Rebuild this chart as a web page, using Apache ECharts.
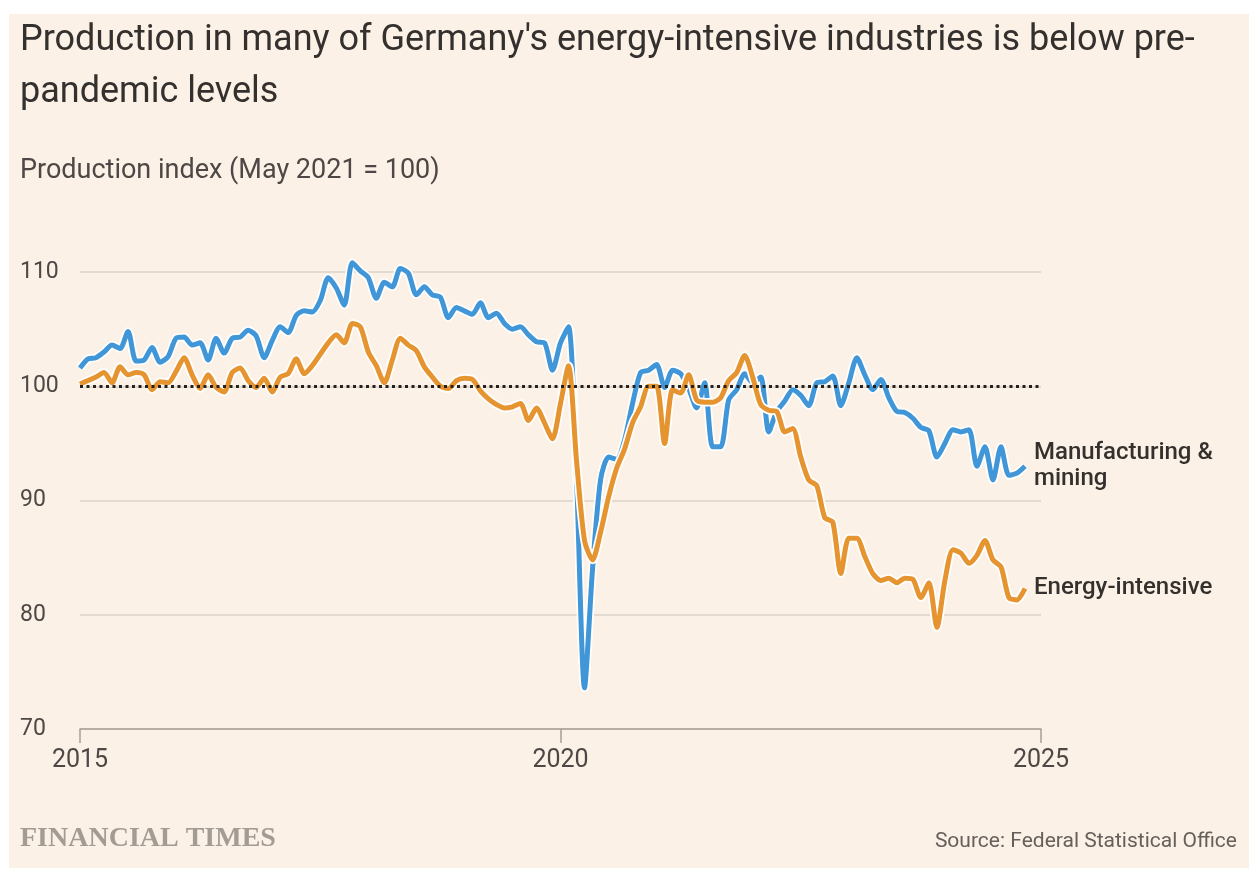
<!DOCTYPE html>
<html>
<head>
<meta charset="utf-8">
<script src="https://cdn.jsdelivr.net/npm/echarts@6/dist/echarts.min.js"></script>
<style>
  html, body { margin: 0; padding: 0; background: #fff; }
  #chart { width: 1260px; height: 884px; }
</style>
</head>
<body>
<div id="chart"></div>
<script>
// monthly index, Jan 2015 - Nov 2024 (May 2021 = 100)
var startYear = 2015;
var manufacturing = [
  101.6, 102.4, 102.5, 103.0, 103.6, 103.3, 104.8, 102.2, 102.3, 103.4, 102.1, 102.6,
  104.2, 104.3, 103.6, 103.8, 102.3, 104.2, 102.9, 104.2, 104.3, 104.9, 104.4, 102.5,
  104.0, 105.2, 104.7, 106.2, 106.6, 106.5, 107.5, 109.5, 108.6, 107.1, 110.8, 110.1,
  109.5, 107.7, 109.1, 108.7, 110.3, 109.9, 108.0, 108.7, 108.0, 107.8, 106.0, 106.9,
  106.6, 106.3, 107.3, 106.0, 106.4, 105.5, 105.0, 105.2, 104.5, 103.9, 103.8, 101.4,
  103.8, 105.2, 92.0, 73.6, 84.0, 91.8, 93.8, 93.6, 95.3, 98.5, 101.2, 101.4,
  101.9, 99.9, 101.4, 101.1, 99.8, 98.1, 100.3, 94.7, 94.7, 98.8, 99.7, 101.1,
  100.3, 100.8, 96.0, 97.8, 98.7, 99.7, 99.2, 98.3, 100.3, 100.4, 100.9, 98.3,
  100.3, 102.5, 101.0, 99.7, 100.6, 99.0, 97.8, 97.7, 97.2, 96.4, 96.1, 93.8,
  95.0, 96.2, 96.0, 96.2, 93.0, 94.7, 91.8, 94.7, 92.2, 92.4, 93.0
];
var energyIntensive = [
  100.2, 100.5, 100.8, 101.2, 100.3, 101.7, 101.0, 101.2, 101.0, 99.7, 100.4, 100.3,
  101.3, 102.5, 101.0, 99.8, 101.0, 99.9, 99.5, 101.2, 101.6, 100.5, 99.9, 100.7,
  99.5, 100.8, 101.1, 102.4, 101.1, 101.8, 102.8, 103.8, 104.5, 103.8, 105.5, 105.2,
  103.0, 101.8, 100.3, 102.3, 104.2, 103.6, 103.1, 101.7, 100.8, 100.0, 99.8, 100.5,
  100.7, 100.6, 99.6, 98.9, 98.4, 98.1, 98.2, 98.5, 97.0, 98.1, 96.8, 95.4,
  98.5, 101.8, 93.5, 86.5, 84.8, 87.2, 90.3, 92.8, 94.5, 96.8, 98.2, 100.0,
  100.0, 95.0, 99.7, 99.4, 101.0, 98.8, 98.6, 98.6, 99.0, 100.5, 101.2, 102.7,
  100.8, 98.4, 97.9, 97.8, 96.0, 96.3, 93.8, 91.8, 91.3, 88.5, 88.1, 83.6,
  86.7, 86.7, 85.1, 83.6, 83.0, 83.2, 82.8, 83.2, 83.1, 81.5, 82.8, 78.9,
  83.0, 85.7, 85.4, 84.5, 85.2, 86.5, 84.8, 84.2, 81.5, 81.3, 82.3
];
var xTicks = [2015, 2020, 2025];
var yTicks = [70, 80, 90, 100, 110];

function toPoints(values) {
  return values.map(function (v, i) { return [startYear + i / 12, v]; });
}

var blue = '#4096d7';
var orange = '#e59430';
var ink = '#33302e';

var chart = echarts.init(document.getElementById('chart'));

function lineSeries(name, values, color, halo, label) {
  return {
    name: name,
    type: 'line',
    data: toPoints(values),
    showSymbol: false,
    symbol: 'none',
    smooth: 0.25,
    clip: false,
    silent: true,
    lineStyle: { color: halo ? '#ffffff' : color, width: halo ? 8.5 : 5 },
    endLabel: label ? {
      show: true,
      distance: 9,
      formatter: label,
      color: ink,
      fontSize: 24,
      fontWeight: 500,
      lineHeight: 26,
      fontFamily: 'Roboto'
    } : { show: false }
  };
}

var blueHalo = lineSeries('mfg-halo', manufacturing, blue, true);
blueHalo.markLine = {
  silent: true,
  symbol: 'none',
  label: { show: false },
  lineStyle: { color: '#26211e', type: [3, 3.5], width: 3 },
  data: [{ yAxis: 100 }]
};

chart.setOption({
  backgroundColor: '#ffffff',
  animation: false,
  textStyle: { fontFamily: 'Roboto' },
  graphic: [
    { type: 'rect', z: -10, shape: { x: 9, y: 14, width: 1240, height: 854 }, style: { fill: '#fcf1e6' } },
    { type: 'text', left: 20, top: 825, style: { text: 'FINANCIAL TIMES', fill: '#a39c95', fontFamily: 'Liberation Serif', fontWeight: 'bold', fontSize: 28 } },
    { type: 'text', right: 23, top: 831, style: { text: 'Source: Federal Statistical Office', fill: '#66605c', fontFamily: 'Roboto', fontSize: 21 } }
  ],
  title: [{
    text: "Production in many of Germany's energy-intensive industries is below pre-\npandemic levels",
    left: 15,
    top: 10,
    textStyle: { color: ink, fontSize: 36, fontWeight: 'normal', lineHeight: 52, fontFamily: 'Roboto' }
  }, {
    text: 'Production index (May 2021 = 100)',
    left: 15,
    top: 151,
    textStyle: { color: '#4d4845', fontSize: 27, fontWeight: 'normal', lineHeight: 30, fontFamily: 'Roboto' }
  }],
  grid: { left: 80, right: 219, top: 272, bottom: 155 },
  xAxis: {
    type: 'value',
    min: xTicks[0],
    max: xTicks[xTicks.length - 1],
    interval: 5,
    axisLine: { show: true, lineStyle: { color: '#a89f97', width: 1.5 } },
    axisTick: { show: true, length: 14, lineStyle: { color: '#a89f97', width: 1.5 } },
    axisLabel: { color: '#4d4845', fontSize: 25, margin: 19, formatter: function (v) { return String(v); } },
    splitLine: { show: false }
  },
  yAxis: {
    type: 'value',
    min: yTicks[0],
    max: yTicks[yTicks.length - 1],
    interval: 10,
    axisLine: { show: false },
    axisTick: { show: false },
    axisLabel: { color: '#4d4845', fontSize: 23, align: 'left', margin: 60 },
    splitLine: { lineStyle: { color: '#ddd3c9', width: 1.5 } }
  },
  series: [
    blueHalo,
    lineSeries('Manufacturing & mining', manufacturing, blue, false, 'Manufacturing &\nmining'),
    lineSeries('energy-halo', energyIntensive, orange, true),
    lineSeries('Energy-intensive', energyIntensive, orange, false, 'Energy-intensive')
  ]
});
</script>
</body>
</html>
